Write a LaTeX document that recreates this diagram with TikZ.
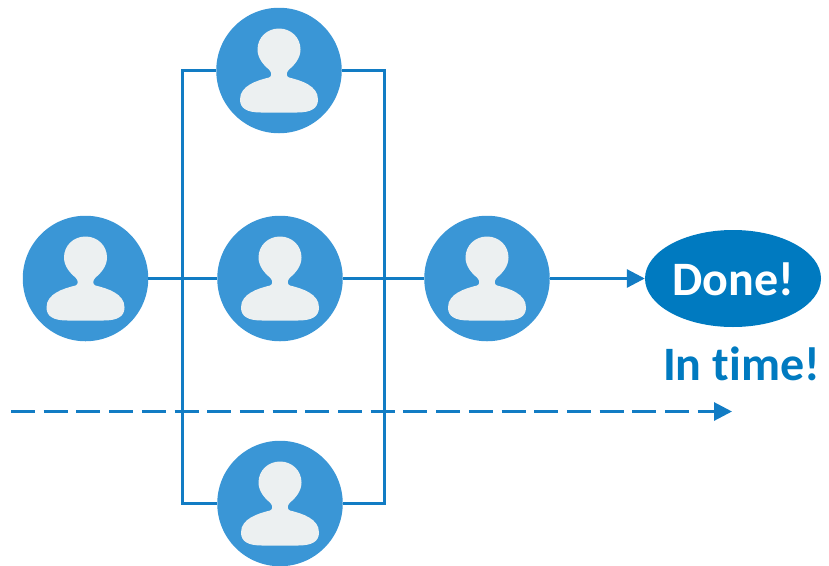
\documentclass[tikz,border=0pt]{standalone}
\usepackage{fontspec}
\setmainfont[Ligatures=NoCommon]{Carlito}
\usetikzlibrary{arrows.meta,shapes.geometric}
\definecolor{personblue}{RGB}{58,150,214}
\definecolor{linkblue}{RGB}{18,124,196}
\definecolor{doneblue}{RGB}{0,122,192}
\definecolor{bodygray}{RGB}{236,240,241}
\tikzset{
  person/.style={circle,fill=personblue,minimum size=125.5pt,inner sep=0pt},
  link/.style={draw=linkblue,line width=3pt},
  flow/.style={link,-{Triangle[length=18pt,width=18pt]}},
  bigtext/.style={font=\bfseries\fontsize{48}{48}\selectfont,inner sep=0pt,anchor=base},
}
% one person: head and shoulders on top of the disc
\newcommand{\personicon}[1]{
  \begin{scope}[shift={(#1)}]
    \fill[bodygray] (0,-42) .. controls (12,-42) and (21.5,-33) .. (21.5,-21)
      .. controls (21.5,-12) and (15,-5) .. (10,-1)
      .. controls (7,2) and (7,6) .. (10,7)
      .. controls (22,10) and (39,15) .. (39,29)
      .. controls (39,38) and (32,42) .. (18,42)
      -- (-18,42)
      .. controls (-32,42) and (-39,38) .. (-39,29)
      .. controls (-39,15) and (-22,10) .. (-10,7)
      .. controls (-7,6) and (-7,2) .. (-10,-1)
      .. controls (-15,-5) and (-21.5,-12) .. (-21.5,-21)
      .. controls (-21.5,-33) and (-12,-42) .. (0,-42) -- cycle;
  \end{scope}
}
\begin{document}
\begin{tikzpicture}[x=1pt,y=-1pt]
\useasboundingbox (0,0) rectangle (829,565);
% people
\node[person] (first) at (85.5,278.5) {};
\node[person] (top) at (279,70.5) {};
\node[person] (mid) at (280,278.5) {};
\node[person] (bot) at (280,503.5) {};
\node[person] (last) at (487,278.5) {};
% result
\node[ellipse,fill=doneblue,minimum width=176pt,minimum height=97pt,inner sep=0pt] (done) at (733,278.5) {};
\node[bigtext,text=white] (donetext) at (733,295) {Done!};
\node[bigtext,text=doneblue] (intime) at (741.5,380) {In time!};
% branches
\coordinate (topleft) at (182,70.5);
\coordinate (topright) at (384,70.5);
\coordinate (botleft) at (182,503.5);
\coordinate (botright) at (384,503.5);
\draw[link] (top) -- (topleft) -- (botleft) -- (bot);
\draw[link] (top) -- (topright) -- (botright) -- (bot);
\draw[link] (first) -- (mid);
\draw[link] (mid) -- (last);
\draw[flow] (last) -- (done);
% time line
\coordinate (timestart) at (11,411.5);
\coordinate (timeend) at (732,411.5);
\draw[flow,dash pattern=on 24pt off 8.7pt] (timestart) -- (timeend);
% icons
\personicon{first}
\personicon{top}
\personicon{mid}
\personicon{bot}
\personicon{last}
\end{tikzpicture}
\end{document}
